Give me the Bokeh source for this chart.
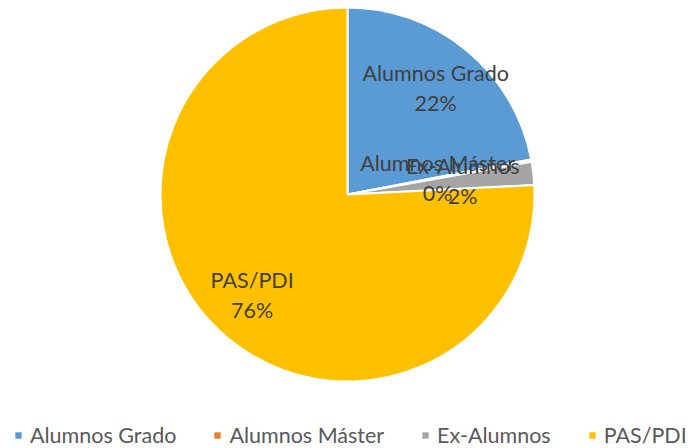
import math
from bokeh.plotting import figure
from bokeh.models import Range1d, ColumnDataSource, Legend, LegendItem
from bokeh.core.properties import value
from bokeh.embed import file_html
from bokeh.resources import INLINE

categories = ["Alumnos Grado", "Alumnos Máster", "Ex-Alumnos", "PAS/PDI"]
shares = [22.0, 0.2, 2.0, 75.8]
colors = ["#5B9BD5", "#ED7D31", "#A5A5A5", "#FFC000"]
label_radius = [0.74, 0.49, 0.62, 0.74]

W, H = 692, 448
CX, CY, R = 347, 254, 187
FONT = "Lato"
FS = "21.5px"

total = sum(shares)
starts, ends, lx, ly, pct = [], [], [], [], []
cum = 0.0
for v, lr in zip(shares, label_radius):
    a0 = math.pi / 2 - 2 * math.pi * cum / total
    cum += v
    a1 = math.pi / 2 - 2 * math.pi * cum / total
    starts.append(a0)
    ends.append(a1)
    mid = (a0 + a1) / 2
    lx.append(CX + lr * R * math.cos(mid))
    ly.append(CY + lr * R * math.sin(mid))
    pct.append(f"{round(100 * v / total)}%")

src = ColumnDataSource(dict(cat=categories, start=starts, end=ends, color=colors,
                            lx=lx, ly=ly, pct=pct,
                            ly1=[y + 15 for y in ly], ly2=[y - 15 for y in ly]))

p = figure(width=W, height=H, output_backend="svg", toolbar_location=None,
           x_range=Range1d(0, W), y_range=Range1d(0, H), min_border=0,
           outline_line_color=None)
p.axis.visible = False
p.grid.visible = False
p.background_fill_color = "white"

p.wedge(x=CX, y=CY, radius=R, start_angle="start", end_angle="end",
        direction="clock", fill_color="color", line_color="white",
        line_width=2, source=src)

p.text(x="lx", y="ly1", text="cat", source=src, text_align="center",
       text_baseline="middle", text_font=value(FONT), text_font_size=FS,
       text_color="#404040")
p.text(x="lx", y="ly2", text="pct", source=src, text_align="center",
       text_baseline="middle", text_font=value(FONT), text_font_size=FS,
       text_color="#404040")

# hidden area renderer, used only so the legend draws full square swatches
swatch = p.quad(left="lx", right="lx", top="ly", bottom="ly", fill_color="color",
                line_color=None, source=src, visible=False)
items = [LegendItem(label=c, renderers=[swatch], index=i) for i, c in enumerate(categories)]

legend = Legend(items=items, orientation="horizontal", location=(14, 0),
                glyph_width=8, glyph_height=8, label_standoff=8, spacing=37,
                label_text_font=FONT, label_text_font_size="21.5px",
                label_text_color="#595959", border_line_color=None,
                background_fill_alpha=0, padding=0, margin=0)
p.add_layout(legend)

open("out.html", "w").write(file_html(p, INLINE))
